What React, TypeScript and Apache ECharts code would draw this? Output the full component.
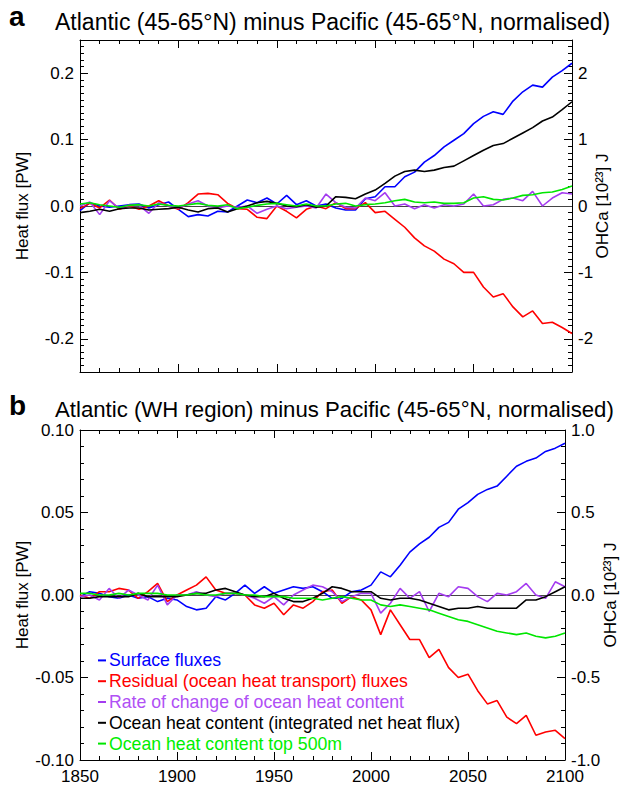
import React, { useEffect, useRef } from "react";
import * as echarts from "echarts";

const FONT = "'Liberation Sans', Arial, Helvetica, sans-serif";

const years = [
  1850, 1855, 1860, 1865, 1870, 1875, 1880, 1885, 1890, 1895,
  1900, 1905, 1910, 1915, 1920, 1925, 1930, 1935, 1940, 1945,
  1950, 1955, 1960, 1965, 1970, 1975, 1980, 1985, 1990, 1995,
  2000, 2005, 2010, 2015, 2020, 2025, 2030, 2035, 2040, 2045,
  2050, 2055, 2060, 2065, 2070, 2075, 2080, 2085, 2090, 2095, 2100,
];

const seriesNames = [
  "Surface fluxes",
  "Residual (ocean heat transport) fluxes",
  "Rate of change of ocean heat content",
  "Ocean heat content (integrated net heat flux)",
  "Ocean heat content top 500m",
];
const seriesColors = ["#0000ff", "#ff0000", "#a43cf0", "#000000", "#00e600"];
const legendTextColors = ["#0000ff", "#ff0000", "#b050f5", "#000000", "#00ee00"];

// Panel a: heat flux [PW]
const surfaceA = [
  -0.007, 0.005, 0.0, -0.002, 0.0, 0.002, 0.003, -0.003, 0.002, 0.006,
  -0.005, -0.016, -0.013, -0.015, -0.008, -0.009, 0.0, 0.009, 0.005, 0.012,
  0.003, 0.016, 0.002, 0.008, 0.0, 0.003, -0.003, -0.006, -0.006, 0.011,
  0.014, 0.029, 0.029, 0.044, 0.051, 0.066, 0.076, 0.089, 0.099, 0.109,
  0.124, 0.135, 0.142, 0.138, 0.158, 0.172, 0.182, 0.179, 0.194, 0.204, 0.215,
];
const residualA = [
  -0.004, 0.004, -0.003, 0.009, -0.005, 0.0, -0.005, 0.0, 0.008, 0.0,
  -0.005, 0.005, 0.018, 0.019, 0.017, 0.004, -0.004, -0.005, -0.017, -0.019,
  0.0, -0.008, -0.018, -0.005, 0.0, -0.004, 0.005, -0.004, -0.004, 0.005,
  -0.01, -0.008, -0.02, -0.032, -0.048, -0.06, -0.068, -0.08, -0.087, -0.1,
  -0.1, -0.122, -0.137, -0.132, -0.152, -0.167, -0.158, -0.177, -0.175, -0.183, -0.192,
];
const rateA = [
  0.0, 0.006, -0.013, 0.008, -0.004, 0.001, 0.001, -0.011, 0.005, 0.0,
  -0.003, 0.003, 0.008, 0.0, -0.003, 0.0, -0.002, 0.0, -0.011, -0.005,
  0.0, -0.004, -0.002, 0.0, -0.003, 0.018, 0.005, -0.002, -0.003, 0.012,
  0.008, 0.02, 0.0, 0.003, -0.004, 0.002, -0.003, 0.002, 0.0, 0.003,
  0.018, 0.0, 0.002, 0.01, 0.012, 0.008, 0.022, 0.0, 0.012, 0.02, 0.018,
];
// Panel a: OHCa [10^23 J]
const ohcA = [
  -0.1, -0.08, -0.05, -0.08, -0.04, -0.03, -0.03, -0.06, -0.05, -0.04,
  -0.02, -0.06, -0.09, -0.04, -0.03, -0.09, -0.04, 0.0, 0.05, 0.07,
  0.04, 0.0, -0.01, 0.02, -0.02, 0.0, 0.14, 0.13, 0.11, 0.18,
  0.24, 0.34, 0.45, 0.52, 0.54, 0.52, 0.54, 0.58, 0.6, 0.68,
  0.76, 0.84, 0.91, 0.94, 1.02, 1.1, 1.18, 1.28, 1.34, 1.45, 1.57,
];
const ohc500A = [
  0.03, 0.05, 0.02, 0.0, -0.02, 0.01, 0.02, 0.0, 0.03, 0.01,
  0.0, 0.02, 0.04, 0.01, 0.0, 0.02, -0.04, -0.02, 0.01, 0.03,
  0.04, 0.02, 0.0, 0.03, 0.0, 0.0, 0.03, 0.04, 0.0, 0.02,
  0.03, 0.05, 0.08, 0.1, 0.06, 0.05, 0.06, 0.04, 0.04, 0.05,
  0.12, 0.14, 0.1, 0.09, 0.12, 0.16, 0.17, 0.2, 0.21, 0.25, 0.3,
];

// Panel b: heat flux [PW]
const surfaceB = [
  -0.001, 0.002, 0.001, -0.001, -0.002, 0.0, -0.002, -0.001, -0.004, -0.002,
  -0.003, -0.007, -0.009, -0.008, -0.001, -0.003, 0.001, 0.006, 0.001, 0.005,
  0.001, 0.003, 0.005, 0.004, 0.005, 0.002, -0.002, -0.002, 0.002, 0.003,
  0.006, 0.014, 0.011, 0.018, 0.026, 0.031, 0.035, 0.041, 0.044, 0.052,
  0.056, 0.061, 0.064, 0.066, 0.072, 0.078, 0.081, 0.083, 0.087, 0.089, 0.092,
];
const residualB = [
  0.0, -0.002, 0.002, 0.002, 0.004, 0.003, -0.002, 0.002, 0.007, -0.004,
  0.0, 0.003, 0.006, 0.011, 0.003, 0.001, 0.001, 0.0, -0.006, -0.008,
  -0.005, -0.012, -0.006, -0.008, -0.004, 0.002, 0.003, -0.005, -0.001, -0.003,
  -0.009, -0.024, -0.009, -0.018, -0.027, -0.027, -0.038, -0.033, -0.044, -0.05,
  -0.048, -0.058, -0.066, -0.064, -0.074, -0.078, -0.073, -0.085, -0.083, -0.082, -0.087,
];
const rateB = [
  -0.001, 0.0, -0.003, 0.004, -0.002, 0.003, 0.0, -0.003, 0.006, -0.006,
  0.0, 0.0, 0.002, 0.0, -0.001, 0.001, 0.001, 0.0, -0.002, -0.005,
  -0.001, -0.006, 0.0, 0.003, 0.006, 0.005, 0.002, -0.004, -0.001, 0.001,
  0.001, -0.011, -0.005, 0.004, -0.002, 0.002, -0.01, 0.001, -0.001, 0.005,
  0.004, -0.001, -0.004, 0.001, 0.0, 0.002, 0.007, 0.0, -0.002, 0.008, 0.005,
];
// Panel b: OHCa [10^23 J]
const ohcB = [
  -0.02, -0.02, -0.01, -0.01, -0.01, -0.01, 0.01, -0.01, -0.01, -0.01,
  -0.01, 0.0, 0.01, 0.01, 0.03, 0.04, 0.02, 0.0, -0.01, -0.01,
  0.01, -0.02, -0.04, -0.04, -0.02, 0.01, 0.05, 0.04, 0.02, 0.02,
  0.02, -0.02, -0.03, -0.02, -0.02, -0.03, -0.05, -0.07, -0.09, -0.08,
  -0.08, -0.07, -0.08, -0.08, -0.08, -0.08, -0.03, -0.03, -0.01, 0.02, 0.05,
];
const ohc500B = [
  0.01, 0.01, 0.0, 0.0, 0.01, 0.0, 0.01, 0.01, 0.01, 0.0,
  0.0, 0.0, 0.01, 0.0, 0.0, 0.01, 0.01, 0.0, 0.0, -0.01,
  -0.01, -0.01, -0.02, -0.02, -0.02, -0.03, -0.02, -0.01, -0.02, -0.03,
  -0.03, -0.06, -0.07, -0.06, -0.07, -0.08, -0.09, -0.11, -0.13, -0.15,
  -0.16, -0.18, -0.2, -0.22, -0.23, -0.24, -0.23, -0.25, -0.26, -0.25, -0.23,
];

const panelATitle = "Atlantic (45-65°N) minus Pacific (45-65°N, normalised)";
const panelBTitle = "Atlantic (WH region) minus Pacific (45-65°N, normalised)";
const leftAxisName = "Heat flux [PW]";
const rightAxisName = "OHCa [10²³] J";

const GRID_LEFT = 80;
const GRID_WIDTH = 492;

function pairs(vals: number[]) {
  return years.map((y, i) => [y, vals[i]]);
}

const tickLine = { color: "#000", width: 1 };

function xAxisDef(gridIndex: number, position: string, showLabels: boolean) {
  return {
    type: "value",
    gridIndex,
    position,
    min: 1850,
    max: 2100,
    interval: 50,
    axisLine: { show: true, onZero: false, lineStyle: { color: "#000", width: 1 } },
    axisTick: { show: true, inside: true, length: 8, lineStyle: tickLine },
    minorTick: { show: true, splitNumber: 5, length: 4, lineStyle: tickLine },
    splitLine: { show: false },
    axisLabel: {
      show: showLabels,
      color: "#000",
      fontSize: 17,
      fontFamily: FONT,
      margin: 8,
      formatter: (v: number) => String(v),
    },
  };
}

function yAxisDef(opts: any) {
  return {
    type: "value",
    gridIndex: opts.gridIndex,
    position: opts.position,
    min: opts.min,
    max: opts.max,
    ...(opts.interval ? { interval: opts.interval } : { splitNumber: opts.splitNumber }),
    name: opts.name,
    nameLocation: "middle",
    nameRotate: 90,
    nameGap: opts.nameGap,
    nameMoveOverlap: false,
    nameTextStyle: { color: "#000", fontSize: 17, fontFamily: FONT },
    axisLine: { show: true, onZero: false, lineStyle: { color: "#000", width: 1 } },
    axisTick: { show: true, inside: true, length: 8, lineStyle: tickLine },
    minorTick: { show: true, splitNumber: opts.minor, length: 4, lineStyle: tickLine },
    splitLine: { show: false },
    axisLabel: {
      color: "#000",
      fontSize: 17,
      fontFamily: FONT,
      margin: 6,
      formatter: opts.formatter,
    },
  };
}

function fmtStep(step: number, digits: number) {
  return (v: number) => {
    const k = v / step;
    if (Math.abs(k - Math.round(k)) > 1e-6) return "";
    const s = v.toFixed(digits);
    return s.startsWith("-") && Number(s) === 0 ? s.slice(1) : s;
  };
}

function lineSeries(name: string, color: string, vals: number[], xi: number, yi: number, zeroLine: boolean) {
  const s: any = {
    type: "line",
    name,
    data: pairs(vals),
    xAxisIndex: xi,
    yAxisIndex: yi,
    showSymbol: false,
    symbol: "none",
    lineStyle: { color, width: 1.6 },
    itemStyle: { color },
    silent: true,
  };
  if (zeroLine) {
    s.markLine = {
      silent: true,
      symbol: "none",
      label: { show: false },
      lineStyle: { color: "#444", width: 1, type: "solid" },
      data: [{ yAxis: 0 }],
      z: 1,
    };
  }
  return s;
}

export default function App() {
  const ref = useRef<HTMLDivElement>(null);

  useEffect(() => {
    if (!ref.current) return;
    const chart = echarts.init(ref.current, undefined, { renderer: "svg" });

    const option: any = {
      animation: false,
      backgroundColor: "#fff",
      textStyle: { fontFamily: FONT },
      title: [
        { text: "a", left: 9, top: 2, padding: 0, textStyle: { fontSize: 28, fontWeight: "bold", color: "#000", fontFamily: FONT } },
        { text: panelATitle, left: 55, top: 10, padding: 0, textStyle: { fontSize: 23, fontWeight: "normal", color: "#000", fontFamily: FONT } },
        { text: "b", left: 9, top: 391, padding: 0, textStyle: { fontSize: 28, fontWeight: "bold", color: "#000", fontFamily: FONT } },
        { text: panelBTitle, left: 55, top: 398, padding: 0, textStyle: { fontSize: 22.2, fontWeight: "normal", color: "#000", fontFamily: FONT } },
      ],
      grid: [
        { left: GRID_LEFT, top: 40, width: GRID_WIDTH, height: 332, containLabel: false },
        { left: GRID_LEFT, top: 430, width: GRID_WIDTH, height: 330, containLabel: false },
      ],
      legend: {
        orient: "vertical",
        left: 98,
        top: 650,
        padding: 0,
        itemGap: 0,
        itemWidth: 8,
        itemHeight: 2,
        icon: "rect",
        selectedMode: false,
        textStyle: { fontSize: 17.7, fontFamily: FONT, lineHeight: 20.8, padding: [0, 0, 0, -2] },
        data: seriesNames.map((n, i) => ({ name: n, textStyle: { color: legendTextColors[i] } })),
      },
      xAxis: [
        xAxisDef(0, "bottom", false),
        xAxisDef(0, "top", false),
        xAxisDef(1, "bottom", true),
        xAxisDef(1, "top", false),
      ],
      yAxis: [
        yAxisDef({ gridIndex: 0, position: "left", min: -0.25, max: 0.25, splitNumber: 5, minor: 10, name: leftAxisName, nameGap: 49, formatter: fmtStep(0.1, 1) }),
        yAxisDef({ gridIndex: 0, position: "right", min: -2.5, max: 2.5, splitNumber: 5, minor: 10, name: rightAxisName, nameGap: 22, formatter: fmtStep(1, 0) }),
        yAxisDef({ gridIndex: 1, position: "left", min: -0.1, max: 0.1, interval: 0.05, minor: 5, name: leftAxisName, nameGap: 49, formatter: fmtStep(0.05, 2) }),
        yAxisDef({ gridIndex: 1, position: "right", min: -1, max: 1, interval: 0.5, minor: 5, name: rightAxisName, nameGap: 37, formatter: fmtStep(0.5, 1) }),
      ],
      series: [
        lineSeries(seriesNames[0], seriesColors[0], surfaceA, 0, 0, true),
        lineSeries(seriesNames[1], seriesColors[1], residualA, 0, 0, false),
        lineSeries(seriesNames[2], seriesColors[2], rateA, 0, 0, false),
        lineSeries(seriesNames[3], seriesColors[3], ohcA, 0, 1, false),
        lineSeries(seriesNames[4], seriesColors[4], ohc500A, 0, 1, false),
        lineSeries(seriesNames[0], seriesColors[0], surfaceB, 2, 2, true),
        lineSeries(seriesNames[1], seriesColors[1], residualB, 2, 2, false),
        lineSeries(seriesNames[2], seriesColors[2], rateB, 2, 2, false),
        lineSeries(seriesNames[3], seriesColors[3], ohcB, 2, 3, false),
        lineSeries(seriesNames[4], seriesColors[4], ohc500B, 2, 3, false),
      ],
    };

    chart.setOption(option);
    return () => chart.dispose();
  }, []);

  return (
    <div
      ref={ref}
      style={{ position: "fixed", left: 0, top: 0, width: 627, height: 786, background: "#fff" }}
    />
  );
}
